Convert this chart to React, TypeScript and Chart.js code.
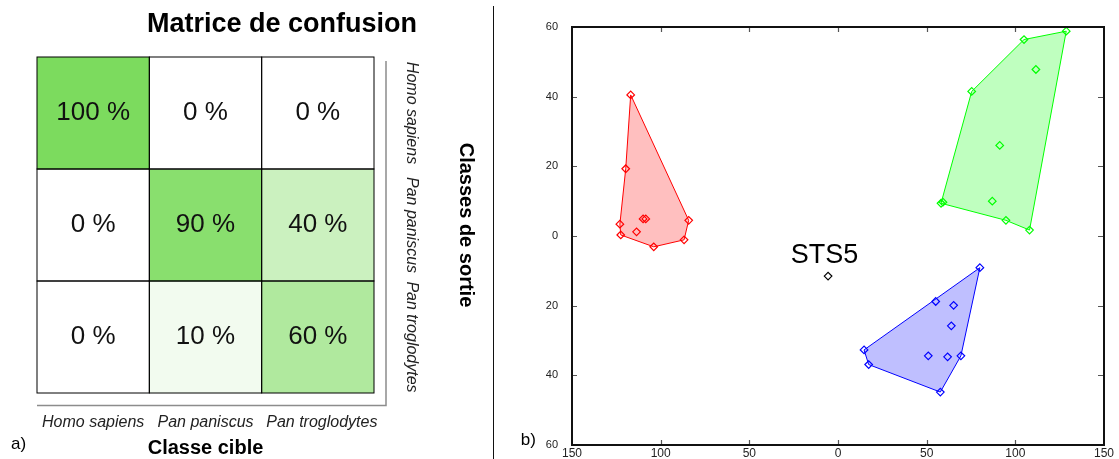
import React, { useEffect, useRef } from 'react';
import { Chart, registerables } from 'chart.js';

Chart.register(...registerables);

const FONT = '"Liberation Sans", Arial, Helvetica, sans-serif';

// ---------- a) Confusion matrix ----------
const targetClasses = ['Homo sapiens', 'Pan paniscus', 'Pan troglodytes'];
const outputClasses = ['Homo sapiens', 'Pan paniscus', 'Pan troglodytes'];
const rowHomoSapiens = [100, 0, 0];
const rowPanPaniscus = [0, 90, 40];
const rowPanTroglodytes = [0, 10, 60];
const matrixRows = [rowHomoSapiens, rowPanPaniscus, rowPanTroglodytes];
const cellSpan = [1, 1, 1];
const matrixTitle = 'Matrice de confusion';
const xTitle = 'Classe cible';
const yTitle = 'Classes de sortie';

// ---------- b) Scatter with convex hulls ----------
const redPoints = [
  { x: -116.9, y: 40.5 },
  { x: -119.7, y: 19.3 },
  { x: -123.0, y: 3.4 },
  { x: -109.9, y: 4.9 },
  { x: -108.4, y: 4.9 },
  { x: -84.2, y: 4.5 },
  { x: -113.6, y: 1.2 },
  { x: -122.5, y: 0.3 },
  { x: -103.9, y: -3.1 },
  { x: -86.8, y: -1.1 },
];
const redHull = [0, 5, 9, 8, 7, 2, 1, 0];

const greenPoints = [
  { x: 128.7, y: 58.8 },
  { x: 104.9, y: 56.4 },
  { x: 111.6, y: 47.8 },
  { x: 75.4, y: 41.5 },
  { x: 91.2, y: 26.0 },
  { x: 87.0, y: 10.0 },
  { x: 58.1, y: 9.4 },
  { x: 59.2, y: 9.7 },
  { x: 94.7, y: 4.5 },
  { x: 108.0, y: 1.7 },
];
const greenHull = [0, 9, 8, 6, 3, 1, 0];

const bluePoints = [
  { x: 80.0, y: -9.1 },
  { x: 55.1, y: -18.8 },
  { x: 65.2, y: -19.9 },
  { x: 63.9, y: -25.8 },
  { x: 14.7, y: -32.7 },
  { x: 17.3, y: -36.9 },
  { x: 50.9, y: -34.4 },
  { x: 61.8, y: -34.7 },
  { x: 69.3, y: -34.4 },
  { x: 57.7, y: -44.8 },
];
const blueHull = [0, 8, 9, 5, 4, 0];

const stsPoint = [{ x: -5.6, y: -11.5 }];
const stsLabel = 'STS5';

const xTickStep = 50;
const yTickStep = 20;

function cellColor(p: number) {
  const t = p / 100;
  const r = Math.round(255 - (255 - 124) * t);
  const g = Math.round(255 - (255 - 219) * t);
  const b = Math.round(255 - (255 - 94) * t);
  return `rgb(${r},${g},${b})`;
}

const matrixDecor = {
  id: 'matrixDecor',
  afterDraw(chart: any) {
    const ctx = chart.ctx;
    const area = chart.chartArea;
    ctx.save();
    // shadow lines
    ctx.strokeStyle = '#8c8c8c';
    ctx.lineWidth = 1.5;
    ctx.beginPath();
    ctx.moveTo(area.right + 12, area.top + 4);
    ctx.lineTo(area.right + 12, area.bottom + 12.5);
    ctx.lineTo(area.left, area.bottom + 12.5);
    ctx.stroke();

    // cells
    chart.data.datasets.forEach((ds: any, r: number) => {
      const meta = chart.getDatasetMeta(r);
      meta.data.forEach((el: any, c: number) => {
        const { x, y, base, width } = el.getProps(['x', 'y', 'base', 'width'], true);
        const left = x - width / 2;
        const top = Math.min(y, base);
        const h = Math.abs(base - y);
        ctx.strokeStyle = '#000';
        ctx.lineWidth = 1;
        ctx.strokeRect(left, top, width, h);
        ctx.fillStyle = '#111';
        ctx.font = `26px ${FONT}`;
        ctx.textAlign = 'center';
        ctx.textBaseline = 'middle';
        ctx.fillText(`${matrixRows[r][c]} %`, x, top + h / 2);
        if (r === 0) {
          // column labels
          ctx.font = `italic 16px ${FONT}`;
          ctx.textBaseline = 'alphabetic';
          ctx.fillStyle = '#222';
          ctx.fillText(targetClasses[c], x + (c === 2 ? 4 : 0), area.bottom + 34);
        }
        if (c === 0) {
          // row labels (rotated)
          ctx.save();
          ctx.translate(area.right + 37, top + h / 2);
          ctx.rotate(Math.PI / 2);
          ctx.font = `italic 16px ${FONT}`;
          ctx.textAlign = 'center';
          ctx.textBaseline = 'middle';
          ctx.fillStyle = '#222';
          ctx.fillText(outputClasses[r], 0, 0);
          ctx.restore();
        }
      });
    });

    // title
    ctx.fillStyle = '#000';
    ctx.textAlign = 'center';
    ctx.textBaseline = 'alphabetic';
    ctx.font = `bold 27px ${FONT}`;
    ctx.fillText(matrixTitle, 282, 32);

    // x title
    ctx.font = `bold 20px ${FONT}`;
    ctx.fillText(xTitle, (area.left + area.right) / 2, area.bottom + 61);

    // y title rotated
    ctx.save();
    ctx.translate(area.right + 92, (area.top + area.bottom) / 2);
    ctx.rotate(Math.PI / 2);
    ctx.textBaseline = 'middle';
    ctx.fillText(yTitle, 0, 0);
    ctx.restore();

    // a)
    ctx.font = `17px ${FONT}`;
    ctx.textAlign = 'left';
    ctx.fillText('a)', 11, 449);

    // separator
    ctx.strokeStyle = '#111';
    ctx.lineWidth = 1;
    ctx.beginPath();
    ctx.moveTo(493.5, 6);
    ctx.lineTo(493.5, 459);
    ctx.stroke();
    ctx.restore();
  },
};

const scatterDecor = {
  id: 'scatterDecor',
  afterDraw(chart: any) {
    const ctx = chart.ctx;
    const area = chart.chartArea;
    const xs = chart.scales.x;
    const ys = chart.scales.y;
    ctx.save();
    // inward ticks
    ctx.strokeStyle = '#555';
    ctx.lineWidth = 1.2;
    ctx.beginPath();
    xs.ticks.forEach((t: any) => {
      if (t.value <= xs.min || t.value >= xs.max) return;
      const px = Math.round(xs.getPixelForValue(t.value)) + 0.5;
      ctx.moveTo(px, area.bottom);
      ctx.lineTo(px, area.bottom - 5);
      ctx.moveTo(px, area.top);
      ctx.lineTo(px, area.top + 5);
    });
    ys.ticks.forEach((t: any) => {
      if (t.value <= ys.min || t.value >= ys.max) return;
      const py = Math.round(ys.getPixelForValue(t.value)) + 0.5;
      ctx.moveTo(area.left, py);
      ctx.lineTo(area.left + 5, py);
      ctx.moveTo(area.right, py);
      ctx.lineTo(area.right - 6, py);
    });
    ctx.stroke();
    // frame
    ctx.strokeStyle = '#111';
    ctx.lineWidth = 2;
    ctx.strokeRect(area.left, area.top, area.right - area.left, area.bottom - area.top);

    // STS5 label
    const sx = xs.getPixelForValue(stsPoint[0].x);
    const sy = ys.getPixelForValue(stsPoint[0].y);
    ctx.fillStyle = '#000';
    ctx.font = `27px ${FONT}`;
    ctx.textAlign = 'center';
    ctx.textBaseline = 'alphabetic';
    ctx.fillText(stsLabel, sx - 3.5, sy - 12.7);

    // b)
    ctx.font = `17px ${FONT}`;
    ctx.textAlign = 'left';
    ctx.fillText('b)', 24.7, 445);
    ctx.restore();
  },
};

function hull(points: { x: number; y: number }[], order: number[]) {
  return order.map((i) => points[i]);
}

function markerSet(data: any[], color: string) {
  return {
    type: 'scatter',
    data,
    pointStyle: 'rectRot',
    pointRadius: 3.8,
    pointBorderWidth: 1.2,
    pointBorderColor: color,
    pointBackgroundColor: 'rgba(0,0,0,0)',
    showLine: false,
  };
}

function hullSet(data: any[], color: string, fill: string) {
  return {
    type: 'line',
    data,
    borderColor: color,
    borderWidth: 1,
    backgroundColor: fill,
    fill: 'shape',
    pointRadius: 0,
    tension: 0,
  };
}

export default function App() {
  const leftRef = useRef<HTMLCanvasElement>(null);
  const rightRef = useRef<HTMLCanvasElement>(null);

  useEffect(() => {
    const left = new Chart(leftRef.current as HTMLCanvasElement, {
      type: 'bar',
      data: {
        labels: targetClasses,
        datasets: outputClasses.map((name, r) => ({
          label: name,
          data: cellSpan,
          backgroundColor: matrixRows[r].map(cellColor),
          borderWidth: 0,
          barPercentage: 1,
          categoryPercentage: 1,
        })),
      },
      options: {
        responsive: false,
        animation: false,
        devicePixelRatio: 1,
        layout: { padding: { left: 37, top: 57, right: 121, bottom: 66 } },
        plugins: { legend: { display: false }, tooltip: { enabled: false } },
        scales: {
          x: { display: false, stacked: true },
          y: { display: false, stacked: true, min: 0, max: 3, reverse: true },
        },
      },
      plugins: [matrixDecor],
    } as any);

    const absTick = (v: any) => String(Math.abs(Number(v)));
    const right = new Chart(rightRef.current as HTMLCanvasElement, {
      type: 'scatter',
      data: {
        datasets: [
          markerSet(stsPoint, '#000'),
          markerSet(redPoints, '#ff0000'),
          markerSet(greenPoints, '#00ff00'),
          markerSet(bluePoints, '#0000ff'),
          hullSet(hull(redPoints, redHull), '#ff0000', 'rgba(255,0,0,0.25)'),
          hullSet(hull(greenPoints, greenHull), '#00ff00', 'rgba(0,255,0,0.25)'),
          hullSet(hull(bluePoints, blueHull), '#0000ff', 'rgba(0,0,255,0.25)'),
        ],
      },
      options: {
        responsive: false,
        animation: false,
        devicePixelRatio: 1,
        layout: { padding: { left: 0, top: 27, right: 15, bottom: 0 } },
        plugins: { legend: { display: false }, tooltip: { enabled: false } },
        scales: {
          x: {
            type: 'linear',
            min: -150,
            max: 150,
            grid: { display: false },
            border: { display: false },
            ticks: {
              stepSize: xTickStep,
              callback: absTick,
              font: { family: FONT, size: 12 },
              color: '#222',
              padding: -7,
              maxRotation: 0,
              autoSkip: false,
            },
            afterFit: (s: any) => {
              s.height = 14;
            },
          },
          y: {
            type: 'linear',
            min: -60,
            max: 60,
            grid: { display: false },
            border: { display: false },
            ticks: {
              stepSize: yTickStep,
              callback: absTick,
              font: { family: FONT, size: 11 },
              color: '#222',
              padding: 6,
            },
            afterFit: (s: any) => {
              s.width = 76;
            },
          },
        },
      },
      plugins: [scatterDecor],
    } as any);

    return () => {
      left.destroy();
      right.destroy();
    };
  }, []);

  return (
    <div
      style={{
        position: 'absolute',
        left: 0,
        top: 0,
        width: 1119,
        height: 459,
        background: '#fff',
        overflow: 'hidden',
      }}
    >
      <canvas
        ref={leftRef}
        width={495}
        height={459}
        style={{ position: 'absolute', left: 0, top: 0, width: 495, height: 459 }}
      />
      <canvas
        ref={rightRef}
        width={623}
        height={459}
        style={{ position: 'absolute', left: 496, top: 0, width: 623, height: 459 }}
      />
    </div>
  );
}
